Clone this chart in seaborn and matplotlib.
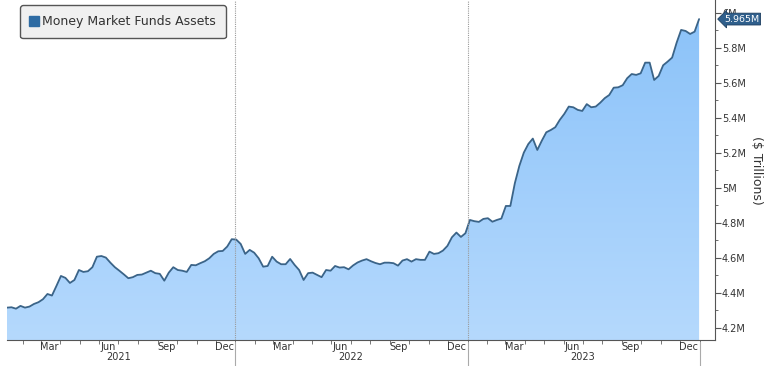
import numpy as np
import pandas as pd
import matplotlib
matplotlib.use("Agg")
import matplotlib.pyplot as plt
import matplotlib.dates as mdates
import seaborn as sns
from matplotlib.transforms import blended_transform_factory
from matplotlib.lines import Line2D
from matplotlib.patches import PathPatch
from matplotlib.colors import LinearSegmentedColormap

# ---------------- data ----------------
start_date = "2021-01-07"
end_date = "2023-12-31"
series_name = "Money Market Funds Assets"
assets = [
    4.316, 4.318, 4.310, 4.326, 4.316, 4.322, 4.337, 4.347, 4.364, 4.394,
    4.385, 4.440, 4.497, 4.486, 4.457, 4.474, 4.531, 4.520, 4.524, 4.547,
    4.607, 4.611, 4.602, 4.573, 4.547, 4.527, 4.506, 4.484, 4.490, 4.503,
    4.505, 4.516, 4.527, 4.513, 4.509, 4.470, 4.516, 4.547, 4.531, 4.527,
    4.520, 4.560, 4.558, 4.570, 4.581, 4.598, 4.623, 4.638, 4.640, 4.665,
    4.707, 4.705, 4.680, 4.623, 4.646, 4.630, 4.598, 4.550, 4.554, 4.607,
    4.579, 4.564, 4.564, 4.594, 4.560, 4.531, 4.474, 4.513, 4.516, 4.503,
    4.490, 4.531, 4.527, 4.554, 4.545, 4.547, 4.535, 4.557, 4.574, 4.585,
    4.593, 4.581, 4.571, 4.564, 4.573, 4.573, 4.570, 4.556, 4.585, 4.593,
    4.579, 4.593, 4.589, 4.589, 4.636, 4.623, 4.627, 4.642, 4.669, 4.718,
    4.745, 4.720, 4.741, 4.817, 4.810, 4.806, 4.823, 4.827, 4.807, 4.817,
    4.825, 4.897, 4.897, 5.027, 5.126, 5.202, 5.251, 5.282, 5.217, 5.270,
    5.318, 5.331, 5.347, 5.389, 5.423, 5.465, 5.461, 5.446, 5.440, 5.479,
    5.461, 5.465, 5.487, 5.513, 5.531, 5.573, 5.575, 5.587, 5.627, 5.651,
    5.646, 5.655, 5.716, 5.716, 5.617, 5.640, 5.701, 5.722, 5.745, 5.830,
    5.903, 5.897, 5.880, 5.893, 5.965,
]
last_label = "5.965M"
ytick_values = [4.2, 4.4, 4.6, 4.8, 5.0, 5.2, 5.4, 5.6, 5.8, 6.0]
ytick_labels = ["4.2M", "4.4M", "4.6M", "4.8M", "5M", "5.2M", "5.4M", "5.6M", "5.8M", "6M"]
year_labels = ["2021", "2022", "2023"]
year_mid = ["2021-07-01", "2022-07-01", "2023-07-01"]
year_bounds = ["2022-01-01", "2023-01-01"]
year_seps = ["2022-01-01", "2023-01-01", "2024-01-01"]
ylabel_text = "($ Trillions)"

dates = pd.date_range(start_date, end_date, periods=len(assets))
df = pd.DataFrame({"date": dates, "assets": assets})

# ---------------- style ----------------
sns.set_theme(style="white")
plt.rcParams["font.family"] = ["DejaVu Sans"]

fig = plt.figure(figsize=(7.68, 3.66), dpi=100)
ax = fig.add_axes([7 / 768, 26 / 366, 708 / 768, 340 / 366])

ymin, ymax = 4.131, 6.074
xmin, xmax = pd.Timestamp("2021-01-07"), pd.Timestamp("2024-01-25")

# gradient area
poly = ax.fill_between(df["date"], df["assets"], ymin, color="none", lw=0)
path = poly.get_paths()[0]
clip = PathPatch(path, transform=ax.transData, facecolor="none", edgecolor="none")
ax.add_patch(clip)
cmap = LinearSegmentedColormap.from_list("g", ["#b5d9fd", "#8cc3f9"])
grad = np.linspace(0, 1, 256).reshape(-1, 1)
xn = mdates.date2num(dates)
im = ax.imshow(grad, aspect="auto", cmap=cmap, origin="lower",
               extent=[xn[0], xn[-1], ymin, max(assets)], zorder=1)
im.set_clip_path(clip)

sns.lineplot(data=df, x="date", y="assets", color="#3b6488", lw=1.3, ax=ax, zorder=3)

for b in year_bounds:
    ax.axvline(pd.Timestamp(b), color="#9a9a9a", lw=0.8, ls=(0, (1, 1)), zorder=4)

ax.set_xlim(xmin, xmax)
ax.set_ylim(ymin, ymax)
ax.set_xlabel("")

# spines
for s in ["left", "top"]:
    ax.spines[s].set_visible(False)
for s in ["right", "bottom"]:
    ax.spines[s].set_color("#555555")
    ax.spines[s].set_linewidth(0.8)

# y axis
ax.yaxis.tick_right()
ax.yaxis.set_label_position("right")
ax.set_yticks(ytick_values)
ax.set_yticklabels(ytick_labels)
ax.set_yticks(np.arange(4.3, 6.0, 0.2), minor=True)
ax.tick_params(axis="y", which="major", direction="out", length=4, width=0.8,
               color="#555555", labelsize=7, labelcolor="#333333", pad=1, right=True, left=False)
ax.tick_params(axis="y", which="minor", direction="out", length=2, width=0.6,
               color="#555555", right=True, left=False)
ax.set_ylabel(ylabel_text, rotation=270, fontsize=9, color="#333333", labelpad=12)

# x axis
ax.xaxis.set_major_locator(mdates.MonthLocator())
ax.xaxis.set_major_formatter(plt.NullFormatter())
ax.xaxis.set_minor_locator(mdates.MonthLocator(bymonth=[3, 6, 9, 12], bymonthday=15))
ax.xaxis.set_minor_formatter(mdates.DateFormatter("%b"))
ax.tick_params(axis="x", which="major", direction="out", length=3, width=0.7,
               color="#777777", bottom=True)
ax.tick_params(axis="x", which="minor", length=0, labelsize=7, labelcolor="#333333", pad=1.5,
               bottom=True)

trans = blended_transform_factory(ax.transData, ax.transAxes)
for lab, m in zip(year_labels, year_mid):
    ax.text(pd.Timestamp(m), -0.05, lab, transform=trans, ha="center", va="center",
            fontsize=7, color="#333333")
for s in year_seps:
    ax.plot([pd.Timestamp(s)] * 2, [-0.006, -0.08], transform=trans, color="#aaaaaa",
            lw=0.8, clip_on=False)

# last value tag
trans_y = blended_transform_factory(ax.transAxes, ax.transData)
ax.annotate(last_label, xy=(1.0, assets[-1]), xycoords=trans_y,
            xytext=(6.5, 0), textcoords="offset points", ha="left", va="center",
            fontsize=6.8, color="white", zorder=10, annotation_clip=False,
            bbox=dict(boxstyle="larrow,pad=0.15", fc="#2f5f8c", ec="#1e3f60", lw=0.6))

# legend
handle = Line2D([], [], marker="s", ls="none", markerfacecolor="#2e6ba3",
                markeredgecolor="#2e6ba3", markersize=7)
leg = ax.legend([handle], [series_name], loc="upper left",
                bbox_to_anchor=(20 / 768, 1 - 5 / 366), bbox_transform=fig.transFigure,
                borderaxespad=0, frameon=True, fancybox=True, facecolor="#f0f0f0",
                edgecolor="#555555", framealpha=1, fontsize=9, handlelength=0.7,
                handletextpad=0.25, borderpad=0.8)
leg.get_frame().set_linewidth(1.0)
for t in leg.get_texts():
    t.set_color("#333333")

fig.savefig("out.png", dpi=100)
